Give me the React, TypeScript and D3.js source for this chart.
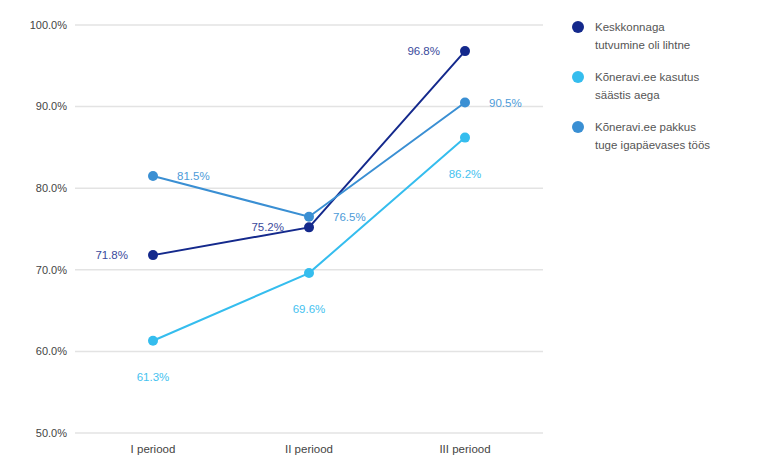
import React from "react";
import * as d3 from "d3";

const categories = ["I periood", "II periood", "III periood"];
const seriesNames = [
  ["Keskkonnaga", "tutvumine oli lihtne"],
  ["Kõneravi.ee kasutus", "säästis aega"],
  ["Kõneravi.ee pakkus", "tuge igapäevases töös"],
];
const s1 = [71.8, 75.2, 96.8];
const s2 = [61.3, 69.6, 86.2];
const s3 = [81.5, 76.5, 90.5];
const yTicks = [50, 60, 70, 80, 90, 100];

const colors = ["#14298c", "#35bdee", "#3a8fd3"];
const labelColors = ["#3a4a9c", "#45c2ef", "#4d9bd8"];
const labelPos = ["left", "below", "right"];

export default function App() {
  const W = 763, H = 458;
  const x0 = 75, x1 = 543;
  const x = d3.scaleBand<string>().domain(categories).range([x0, x1]);
  const y = d3.scaleLinear().domain([50, 100]).range([433, 25]);
  const series = [s1, s2, s3];
  const line = d3.line<number>().x((_, i) => x(categories[i])! + x.bandwidth() / 2).y((d) => y(d));
  const font = "Liberation Sans, Arial, sans-serif";
  return (
    <svg width={W} height={H} style={{ position: "absolute", left: 0, top: 0 }} fontFamily={font}>
      <rect width={W} height={H} fill="#fff" />
      {yTicks.map((t) => (
        <g key={t}>
          <line x1={x0} x2={x1} y1={y(t)} y2={y(t)} stroke="#e3e3e3" strokeWidth={1.5} />
          <text x={67} y={y(t)} dy="0.35em" textAnchor="end" fontSize={11} fill="#444">
            {t.toFixed(1)}%
          </text>
        </g>
      ))}
      {categories.map((c) => (
        <text key={c} x={x(c)! + x.bandwidth() / 2} y={449} dy="0.35em" textAnchor="middle" fontSize={11.5} fill="#444">
          {c}
        </text>
      ))}
      {series.map((s, si) => (
        <g key={si}>
          <path d={line(s) || ""} fill="none" stroke={colors[si]} strokeWidth={2} />
          {s.map((v, i) => {
            const cx = x(categories[i])! + x.bandwidth() / 2;
            const cy = y(v);
            let lx = cx, ly = cy, anchor: "start" | "middle" | "end" = "middle";
            if (labelPos[si] === "left") { lx = cx - 25; anchor = "end"; }
            else if (labelPos[si] === "right") { lx = cx + 24; anchor = "start"; }
            else { ly = cy + 36; }
            return (
              <g key={i}>
                <circle cx={cx} cy={cy} r={5} fill={colors[si]} />
                <text x={lx} y={ly} dy="0.35em" textAnchor={anchor} fontSize={11.5} fill={labelColors[si]}>
                  {v.toFixed(1)}%
                </text>
              </g>
            );
          })}
        </g>
      ))}
      {seriesNames.map((n, i) => (
        <g key={i} transform={`translate(0, ${27 + i * 50})`}>
          <circle cx={578} cy={0} r={6} fill={colors[i]} />
          <text x={595} y={0} dy="0.35em" fontSize={11.5} fill="#555">{n[0]}</text>
          <text x={595} y={18} dy="0.35em" fontSize={11.5} fill="#555">{n[1]}</text>
        </g>
      ))}
    </svg>
  );
}
